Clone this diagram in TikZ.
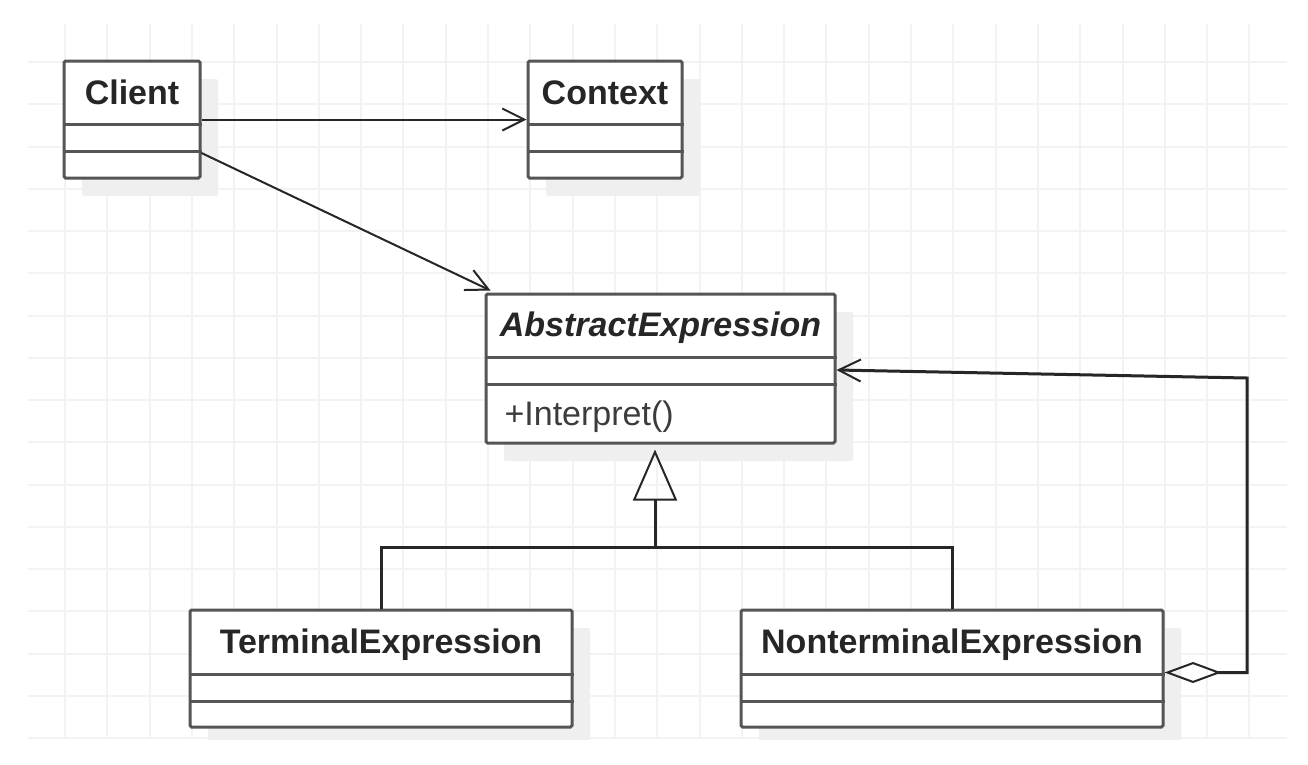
\documentclass[tikz,border=0pt]{standalone}
\usepackage{fontspec}
\setmainfont{Liberation Sans}
\usetikzlibrary{arrows.meta,calc,shadows}

\definecolor{linegray}{HTML}{555555}
\definecolor{textgray}{HTML}{262626}
\definecolor{gridgray}{HTML}{F3F3F3}
\definecolor{shadowgray}{HTML}{EFEFEF}

\tikzset{
  classbox/.style={draw=linegray, line width=3pt, fill=white, rounded corners=1.5pt, inner sep=0pt,
    drop shadow={shadow xshift=18pt, shadow yshift=-18pt, fill=shadowgray, opacity=1}},
  classname/.style={anchor=base, text=textgray, font=\fontsize{34}{40}\selectfont\bfseries},
  member/.style={anchor=base west, text=textgray!90, font=\fontsize{34}{40}\selectfont},
  sepline/.style={draw=linegray, line width=3pt},
  gridline/.style={draw=gridgray, line width=2pt},
  assoc/.style={draw=textgray, line width=2pt, -{Straight Barb[length=22pt,width=22pt,line width=2pt]}},
  inherit/.style={draw=textgray, line width=3pt},
}

\begin{document}
\begin{tikzpicture}[x=1pt,y=-1pt]
\fill[white] (0,0) rectangle (1308,764);
% grid
\foreach \i in {0,...,28}
  \draw[gridline] ({65+42.3*\i},24) -- ({65+42.3*\i},739);
\foreach \j in {0,...,16}
  \draw[gridline] (28,{62+42.25*\j}) -- (1287,{62+42.25*\j});

% classes
\node[classbox, minimum width=136pt, minimum height=117pt] (client) at (132,119.5) {};
\node[classname] (client-name) at ($(client.north)+(0,45)$) {Client};
\draw[sepline] ($(client.north west)+(0,65)$) -- ($(client.north east)+(0,65)$);
\draw[sepline] ($(client.north west)+(0,92)$) -- ($(client.north east)+(0,92)$);

\node[classbox, minimum width=154pt, minimum height=117pt] (context) at (605,119.5) {};
\node[classname] (context-name) at ($(context.north)+(0,45)$) {Context};
\draw[sepline] ($(context.north west)+(0,65)$) -- ($(context.north east)+(0,65)$);
\draw[sepline] ($(context.north west)+(0,92)$) -- ($(context.north east)+(0,92)$);

\node[classbox, minimum width=349pt, minimum height=149pt] (abstract) at (660.5,368.5) {};
\node[classname, font=\fontsize{34}{40}\selectfont\bfseries\itshape] (abstract-name) at ($(abstract.north)+(0,44)$) {AbstractExpression};
\draw[sepline] ($(abstract.north west)+(0,65)$) -- ($(abstract.north east)+(0,65)$);
\draw[sepline] ($(abstract.north west)+(0,92)$) -- ($(abstract.north east)+(0,92)$);
\node[member] (interpret) at (501,425) {+Interpret()};

\node[classbox, minimum width=382pt, minimum height=117pt] (terminal) at (381,668.5) {};
\node[classname] (terminal-name) at ($(terminal.north)+(0,45)$) {TerminalExpression};
\draw[sepline] ($(terminal.north west)+(0,66)$) -- ($(terminal.north east)+(0,66)$);
\draw[sepline] ($(terminal.north west)+(0,93)$) -- ($(terminal.north east)+(0,93)$);

\node[classbox, minimum width=422pt, minimum height=117pt] (nonterminal) at (952,668.5) {};
\node[classname] (nonterminal-name) at ($(nonterminal.north)+(0,45)$) {NonterminalExpression};
\draw[sepline] ($(nonterminal.north west)+(0,66)$) -- ($(nonterminal.north east)+(0,66)$);
\draw[sepline] ($(nonterminal.north west)+(0,93)$) -- ($(nonterminal.north east)+(0,93)$);

% relations
\draw[assoc] (client.east) -- (context.west);
\draw[assoc] ($(client.east)+(0,33.5)$) -- ($(abstract.north west)+(6,-2)$);

\coordinate (joint) at (655,547);
\draw[inherit] (terminal.north) |- (joint) -| (nonterminal.north);
\draw[inherit, shorten >=5pt, -{Triangle[open,length=51pt,width=44pt,line width=2pt]}] (joint) -- (abstract.south -| joint);

\coordinate (bend) at (1247,378);
\draw[inherit, {Diamond[open,length=57pt,width=21pt,line width=2pt]}-{Straight Barb[length=22pt,width=22pt,line width=2pt]}]
  ($(nonterminal.east)+(0,4)$) -| (bend) -- ($(abstract.east)+(0,1.5)$);

% shadows end with the grid
\fill[white] (0,740) rectangle (1308,764);
\end{tikzpicture}
\end{document}
